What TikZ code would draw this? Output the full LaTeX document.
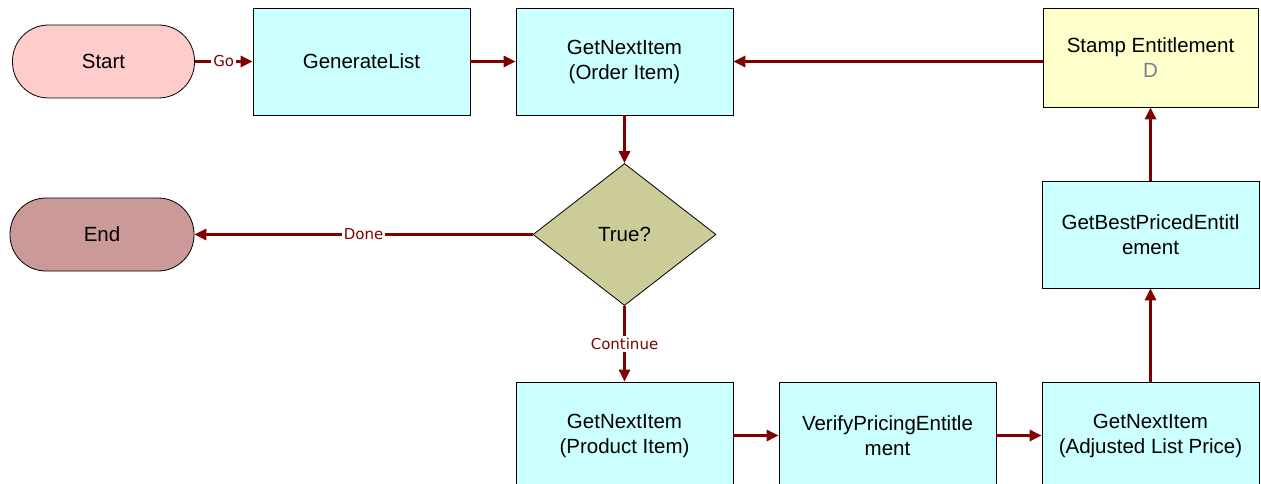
\documentclass[tikz,border=0pt]{standalone}
\usepackage{fontspec}
\setmainfont{Liberation Sans}
\newfontfamily\labelfont{DejaVu Sans}
\usepackage{tikz}
\usetikzlibrary{arrows,shapes}
\usetikzlibrary{arrows.meta}
\definecolor{flow}{RGB}{128, 0, 0}
\definecolor{stepfill}{RGB}{204, 255, 255}
\definecolor{stampfill}{RGB}{255, 255, 204}
\definecolor{startfill}{RGB}{255, 204, 204}
\definecolor{endfill}{RGB}{204, 153, 153}
\definecolor{checkfill}{RGB}{204, 204, 153}
\definecolor{idgray}{RGB}{125, 125, 150}
\tikzstyle{process}=[rectangle, draw, line width=0.8pt, minimum width=217pt, minimum height=107pt, inner sep=0pt, text centered, align=center, fill=stepfill, font=\fontsize{20.5}{25}\selectfont]
\tikzstyle{terminal}=[rectangle, rounded corners=36pt, draw, line width=0.8pt, minimum width=182pt, minimum height=73pt, inner sep=0pt, text centered, font=\fontsize{20.5}{25}\selectfont]
\tikzstyle{decision}=[diamond, draw, line width=0.8pt, minimum width=183pt, minimum height=142pt, inner sep=0pt, text centered, fill=checkfill, font=\fontsize{20.5}{25}\selectfont]
\tikzstyle{flowlabel}=[fill=white, inner sep=2pt, text=flow, font=\fontsize{15}{18}\labelfont]
\tikzstyle{flowline}=[draw, flow, line width=3pt, -{Triangle[length=12pt, width=11pt]}]

\begin{document}
\begin{tikzpicture}[x=1pt, y=-1pt, node distance=263pt]
      %
      \path[use as bounding box] (0,0) rectangle (1261,484);
      \clip (0,0) rectangle (1261,484);
      %
      % Start --> GenerateList* --> GetNextItem (Order Item)*
      %
      \path node[process] (order) at (624.5,61.5) {GetNextItem\\(Order Item)};
      \path node[process, left of=order] (generate) {GenerateList};
      \path node[terminal, fill=startfill, left of=generate, xshift=5pt] (start) {Start};
      \path [flowline] (start.east) -- node[flowlabel] {Go} (generate.west);
      \path [flowline] (generate.east) -- (order.west);
      %
      % GetNextItem (Order Item) --> True?*
      %
      \path node[decision, below of=order, node distance=173pt] (check) {True?};
      \path [flowline] (order.south) -- (check.north);
      %
      % True? --> End*
      %
      \path node[terminal, fill=endfill, minimum width=184pt] (finish) at (102,234.5) {End};
      \path [flowline] (check.west) -- node[flowlabel] {Done} (finish.east);
      %
      % True? --> GetNextItem (Product Item)* --> VerifyPricingEntitlement* --> GetNextItem (Adjusted List Price)*
      %
      \path node[process, below of=check, node distance=201pt] (product) {GetNextItem\\(Product Item)};
      \path [flowline] (check.south) -- node[flowlabel] {Continue} (product.north);
      \path node[process, right of=product] (verify) {VerifyPricingEntitle\\ment};
      \path [flowline] (product.east) -- (verify.west);
      \path node[process, right of=verify] (adjusted) {GetNextItem\\(Adjusted List Price)};
      \path [flowline] (verify.east) -- (adjusted.west);
      %
      % GetNextItem (Adjusted List Price) --> GetBestPricedEntitlement* --> Stamp Entitlement*
      %
      \path node[process, above of=adjusted, node distance=201pt] (best) {GetBestPricedEntitl\\ement};
      \path [flowline] (adjusted.north) -- (best.south);
      \path node[process, fill=stampfill, minimum width=215pt, minimum height=99pt, above of=best, node distance=177pt] (stamp) {Stamp Entitlement\\\textcolor{idgray}{D}};
      \path [flowline] (best.north) -- (stamp.south);
      %
      % Stamp Entitlement --> GetNextItem (Order Item)
      %
      \path [flowline] (stamp.west |- order.east) -- (order.east);
      %
\end{tikzpicture}
\end{document}
